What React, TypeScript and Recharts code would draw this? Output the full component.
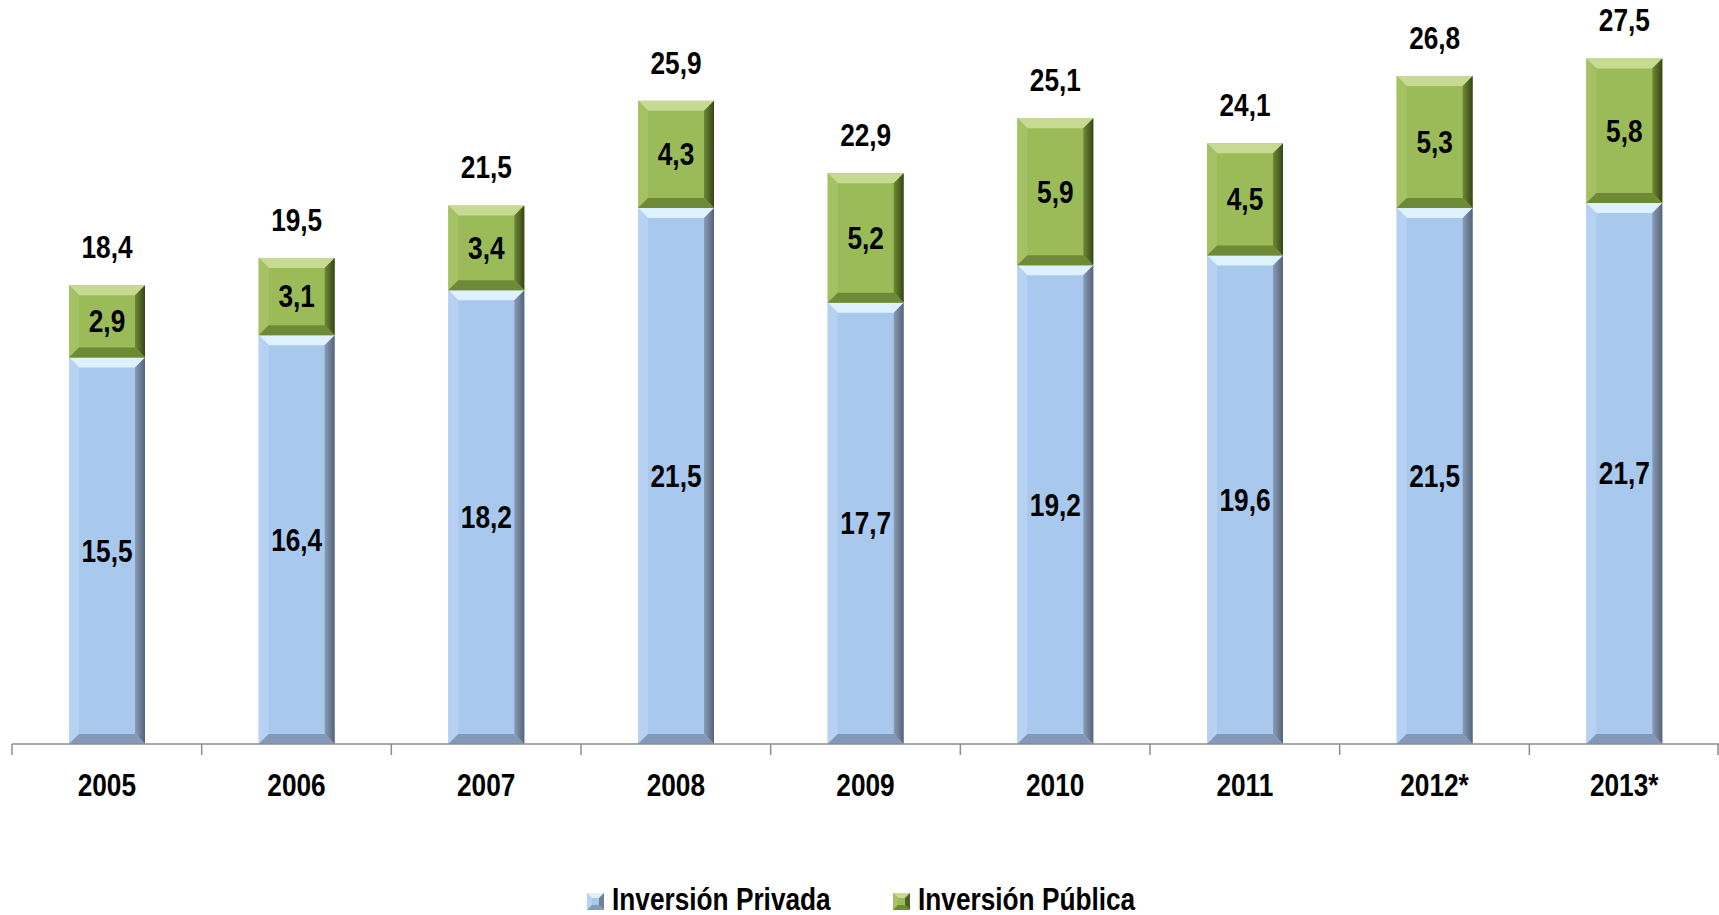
import React from 'react';
import { BarChart, Bar, XAxis, YAxis, LabelList, Legend } from 'recharts';

const years = ['2005', '2006', '2007', '2008', '2009', '2010', '2011', '2012*', '2013*'];
const privada = [15.5, 16.4, 18.2, 21.5, 17.7, 19.2, 19.6, 21.5, 21.7];
const publica = [2.9, 3.1, 3.4, 4.3, 5.2, 5.9, 4.5, 5.3, 5.8];
const totals = [18.4, 19.5, 21.5, 25.9, 22.9, 25.1, 24.1, 26.8, 27.5];
const seriesNames = ['Inversión Privada', 'Inversión Pública'];

const data = years.map((y, i) => ({ year: y, privada: privada[i], publica: publica[i], total: totals[i] }));

const FONT = '"Liberation Sans", Arial, sans-serif';
const NARROW = 0.82;
const FS = 32;
const fmt = (v: any) => Number(v).toFixed(1).replace('.', ',');

const palettes: Record<string, any> = {
  blue: { main: '#A9C8EE', top: '#DDF1FF', left: '#B6D1F2', right: '#6F809A', bottom: '#8499B8' },
  green: { main: '#9BBB59', top: '#C6DA92', left: '#A4C264', right: '#4E6126', bottom: '#6F8A36' },
};

const NarrowText = ({ x, y, children, anchor = 'middle' }: any) => (
  <text
    transform={`translate(${x},${y}) scale(${NARROW},1)`}
    textAnchor={anchor}
    dominantBaseline="central"
    fontFamily={FONT}
    fontWeight="bold"
    fontSize={FS}
    fill="#000"
  >
    {children}
  </text>
);

const BevelBar = (kind: string) => (props: any) => {
  const { x, y, width: w, height: h } = props;
  if (!h || h <= 0) return null;
  const p = palettes[kind];
  const b = Math.min(10, h / 2, w / 2);
  const pts = (arr: number[][]) => arr.map((q) => q.join(',')).join(' ');
  return (
    <g>
      <rect x={x} y={y} width={w} height={h} fill={p.main} />
      <polygon points={pts([[x, y], [x + w, y], [x + w - b, y + b], [x + b, y + b]])} fill={p.top} />
      <polygon points={pts([[x, y], [x + b, y + b], [x + b, y + h - b], [x, y + h]])} fill={p.left} />
      <polygon points={pts([[x + w, y], [x + w - b, y + b], [x + w - b, y + h - b], [x + w, y + h]])} fill={`url(#right-${kind})`} />
      <polygon points={pts([[x, y + h], [x + w, y + h], [x + w - b, y + h - b], [x + b, y + h - b]])} fill={p.bottom} />
    </g>
  );
};

const CenterLabel = (props: any) => {
  const { x, y, width, height, value } = props;
  return <NarrowText x={x + width / 2} y={y + height / 2}>{fmt(value)}</NarrowText>;
};

const TopLabel = (props: any) => {
  const { x, y, width, value } = props;
  return <NarrowText x={x + width / 2} y={y - 38}>{fmt(value)}</NarrowText>;
};

const AxisTick = (props: any) => {
  const { x, y, payload, index, visibleTicksCount } = props;
  const half = payload && payload.offset ? payload.offset : 94.85;
  return (
    <g transform={`translate(${x},${y})`}>
      <line x1={-half} y1={0} x2={-half} y2={11} stroke="#8C8C8C" strokeWidth={1.5} />
      {index === visibleTicksCount - 1 && (
        <line x1={half - 1} y1={0} x2={half - 1} y2={11} stroke="#8C8C8C" strokeWidth={1.5} />
      )}
      <NarrowText x={0} y={41}>{payload.value}</NarrowText>
    </g>
  );
};

const LegendIcon = ({ kind, x, y }: any) => {
  const p = palettes[kind];
  const s = 17, b = 5;
  return (
    <g transform={`translate(${x},${y})`}>
      <rect x={0} y={0} width={s} height={s} fill={p.main} />
      <polygon points={`0,0 ${s},0 ${s - b},${b} ${b},${b}`} fill={p.top} />
      <polygon points={`0,0 ${b},${b} ${b},${s - b} 0,${s}`} fill={p.left} />
      <polygon points={`${s},0 ${s - b},${b} ${s - b},${s - b} ${s},${s}`} fill={p.right} />
      <polygon points={`0,${s} ${s},${s} ${s - b},${s - b} ${b},${s - b}`} fill={p.bottom} />
    </g>
  );
};

const renderLegend = () => (
  <svg width={580} height={33} style={{ display: 'block' }}>
    <LegendIcon kind="blue" x={7} y={11} />
    <NarrowText x={32} y={17} anchor="start">{seriesNames[0]}</NarrowText>
    <LegendIcon kind="green" x={313} y={11} />
    <NarrowText x={338} y={17} anchor="start">{seriesNames[1]}</NarrowText>
  </svg>
);

export default function App() {
  return (
    <div style={{ position: 'absolute', left: 0, top: 0, width: 1719, height: 915, background: '#fff' }}>
      <BarChart width={1719} height={915} data={data} margin={{ top: 46, right: 0, left: 12, bottom: 111 }}>
        <defs>
          <linearGradient id="right-blue" x1="0" y1="0" x2="1" y2="0">
            <stop offset="0%" stopColor="#8A9BB5" />
            <stop offset="100%" stopColor="#55647A" />
          </linearGradient>
          <linearGradient id="right-green" x1="0" y1="0" x2="1" y2="0">
            <stop offset="0%" stopColor="#6E8A34" />
            <stop offset="100%" stopColor="#36441A" />
          </linearGradient>
        </defs>
        <XAxis
          dataKey="year"
          height={60}
          tickLine={false}
          tickSize={0}
          tickMargin={0}
          axisLine={{ stroke: '#8C8C8C', strokeWidth: 1.5 }}
          tick={<AxisTick />}
          interval={0}
        />
        <YAxis hide domain={[0, 28]} />
        <Legend
          layout="horizontal"
          verticalAlign="middle"
          align="center"
          content={renderLegend}
          wrapperStyle={{ top: 882, left: 580, width: 580, height: 33 }}
        />
        <Bar dataKey="privada" name={seriesNames[0]} stackId="a" barSize={76} isAnimationActive={false} shape={BevelBar('blue')}>
          <LabelList dataKey="privada" content={<CenterLabel />} />
        </Bar>
        <Bar dataKey="publica" name={seriesNames[1]} stackId="a" barSize={76} isAnimationActive={false} shape={BevelBar('green')}>
          <LabelList dataKey="publica" content={<CenterLabel />} />
          <LabelList dataKey="total" content={<TopLabel />} />
        </Bar>
      </BarChart>
    </div>
  );
}
